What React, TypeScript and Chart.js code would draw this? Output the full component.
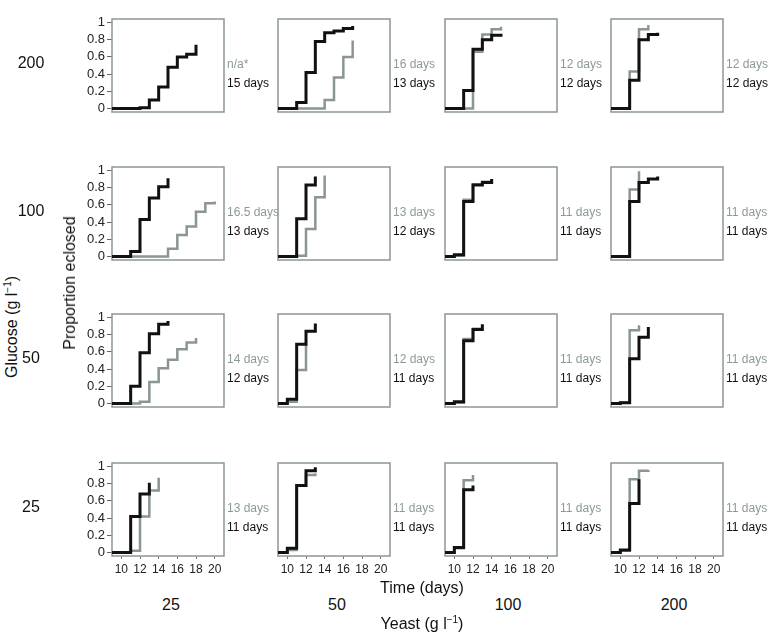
import React, { useEffect, useRef } from 'react';
import { Chart, registerables } from 'chart.js';

Chart.register(...registerables);

// ---------- data ----------
const glucoseLevels = ['200', '100', '50', '25'];
const yeastLevels = ['25', '50', '100', '200'];
const xTickValues = [10, 12, 14, 16, 18, 20];
const yTickValues = [0, 0.2, 0.4, 0.6, 0.8, 1];

// grey = first series median label, black = second series median label
const greyLabels200 = ['n/a*', '16 days', '12 days', '12 days'];
const blackLabels200 = ['15 days', '13 days', '12 days', '12 days'];
const greyLabels100 = ['16.5 days', '13 days', '11 days', '11 days'];
const blackLabels100 = ['13 days', '12 days', '11 days', '11 days'];
const greyLabels50 = ['14 days', '12 days', '11 days', '11 days'];
const blackLabels50 = ['12 days', '11 days', '11 days', '11 days'];
const greyLabels25 = ['13 days', '11 days', '11 days', '11 days'];
const blackLabels25 = ['11 days', '11 days', '11 days', '11 days'];

// Glucose 200
const bDays_200_25 = [9, 12, 13, 14, 15, 16, 17, 18];
const bProp_200_25 = [0, 0.01, 0.1, 0.25, 0.48, 0.6, 0.63, 0.74];
const bDays_200_50 = [9, 11, 12, 13, 14, 15, 16, 17];
const bProp_200_50 = [0, 0.07, 0.42, 0.78, 0.88, 0.9, 0.93, 0.96];
const gDays_200_50 = [9, 14, 15, 16, 17];
const gProp_200_50 = [0, 0.1, 0.36, 0.6, 0.79];
const bDays_200_100 = [9, 11, 12, 13, 14, 15];
const bProp_200_100 = [0, 0.21, 0.69, 0.8, 0.85, 0.87];
const gDays_200_100 = [9, 12, 13, 14, 15];
const gProp_200_100 = [0, 0.66, 0.86, 0.92, 0.95];
const bDays_200_200 = [9, 11, 12, 13, 14];
const bProp_200_200 = [0, 0.33, 0.8, 0.86, 0.88];
const gDays_200_200 = [9, 11, 12, 13];
const gProp_200_200 = [0, 0.43, 0.92, 0.97];

// Glucose 100
const bDays_100_25 = [9, 11, 12, 13, 14, 15];
const bProp_100_25 = [0, 0.06, 0.43, 0.68, 0.81, 0.91];
const gDays_100_25 = [9, 15, 16, 17, 18, 19, 20];
const gProp_100_25 = [0, 0.09, 0.25, 0.35, 0.52, 0.62, 0.64];
const bDays_100_50 = [9, 11, 12, 13];
const bProp_100_50 = [0, 0.44, 0.83, 0.93];
const gDays_100_50 = [9, 11, 12, 13, 14];
const gProp_100_50 = [0, 0.01, 0.32, 0.69, 0.94];
const bDays_100_100 = [9, 10, 11, 12, 13, 14];
const bProp_100_100 = [0, 0.02, 0.64, 0.83, 0.86, 0.9];
const gDays_100_100 = [9, 10, 11, 12, 13, 14];
const gProp_100_100 = [0, 0.01, 0.66, 0.84, 0.87, 0.9];
const bDays_100_200 = [9, 11, 12, 13, 14];
const bProp_100_200 = [0, 0.64, 0.86, 0.9, 0.93];
const gDays_100_200 = [9, 11, 12];
const gProp_100_200 = [0, 0.78, 0.99];

// Glucose 50
const bDays_50_25 = [9, 11, 12, 13, 14, 15];
const bProp_50_25 = [0, 0.2, 0.59, 0.81, 0.92, 0.96];
const gDays_50_25 = [9, 12, 13, 14, 15, 16, 17, 18];
const gProp_50_25 = [0, 0.02, 0.25, 0.41, 0.51, 0.63, 0.71, 0.76];
const bDays_50_50 = [9, 10, 11, 12, 13];
const bProp_50_50 = [0, 0.05, 0.69, 0.84, 0.93];
const gDays_50_50 = [9, 10, 11, 12];
const gProp_50_50 = [0, 0.02, 0.39, 0.69];
const bDays_50_100 = [9, 10, 11, 12, 13];
const bProp_50_100 = [0, 0.02, 0.73, 0.86, 0.92];
const gDays_50_100 = [9, 10, 11, 12, 13];
const gProp_50_100 = [0, 0.01, 0.75, 0.87, 0.91];
const bDays_50_200 = [9, 10, 11, 12, 13];
const bProp_50_200 = [0, 0.01, 0.52, 0.77, 0.89];
const gDays_50_200 = [9, 10, 11, 12];
const gProp_50_200 = [0, 0.01, 0.85, 0.91];

// Glucose 25
const bDays_25_25 = [9, 11, 12, 13];
const bProp_25_25 = [0, 0.42, 0.68, 0.81];
const gDays_25_25 = [9, 11, 12, 13, 14];
const gProp_25_25 = [0, 0.02, 0.42, 0.72, 0.87];
const bDays_25_50 = [9, 10, 11, 12, 13];
const bProp_25_50 = [0, 0.05, 0.78, 0.95, 0.99];
const gDays_25_50 = [9, 10, 11, 12, 13];
const gProp_25_50 = [0, 0.03, 0.78, 0.9, 0.92];
const bDays_25_100 = [9, 10, 11, 12];
const bProp_25_100 = [0, 0.06, 0.73, 0.78];
const gDays_25_100 = [9, 10, 11, 12];
const gProp_25_100 = [0, 0.05, 0.84, 0.9];
const bDays_25_200 = [9, 10, 11, 12];
const bProp_25_200 = [0, 0.03, 0.57, 0.85];
const gDays_25_200 = [9, 10, 11, 12, 13];
const gProp_25_200 = [0, 0.02, 0.85, 0.95, 0.96];

type Series = { days: number[]; props: number[] } | null;

const panelSeries: { black: Series; grey: Series }[][] = [
  [
    { black: { days: bDays_200_25, props: bProp_200_25 }, grey: null },
    { black: { days: bDays_200_50, props: bProp_200_50 }, grey: { days: gDays_200_50, props: gProp_200_50 } },
    { black: { days: bDays_200_100, props: bProp_200_100 }, grey: { days: gDays_200_100, props: gProp_200_100 } },
    { black: { days: bDays_200_200, props: bProp_200_200 }, grey: { days: gDays_200_200, props: gProp_200_200 } },
  ],
  [
    { black: { days: bDays_100_25, props: bProp_100_25 }, grey: { days: gDays_100_25, props: gProp_100_25 } },
    { black: { days: bDays_100_50, props: bProp_100_50 }, grey: { days: gDays_100_50, props: gProp_100_50 } },
    { black: { days: bDays_100_100, props: bProp_100_100 }, grey: { days: gDays_100_100, props: gProp_100_100 } },
    { black: { days: bDays_100_200, props: bProp_100_200 }, grey: { days: gDays_100_200, props: gProp_100_200 } },
  ],
  [
    { black: { days: bDays_50_25, props: bProp_50_25 }, grey: { days: gDays_50_25, props: gProp_50_25 } },
    { black: { days: bDays_50_50, props: bProp_50_50 }, grey: { days: gDays_50_50, props: gProp_50_50 } },
    { black: { days: bDays_50_100, props: bProp_50_100 }, grey: { days: gDays_50_100, props: gProp_50_100 } },
    { black: { days: bDays_50_200, props: bProp_50_200 }, grey: { days: gDays_50_200, props: gProp_50_200 } },
  ],
  [
    { black: { days: bDays_25_25, props: bProp_25_25 }, grey: { days: gDays_25_25, props: gProp_25_25 } },
    { black: { days: bDays_25_50, props: bProp_25_50 }, grey: { days: gDays_25_50, props: gProp_25_50 } },
    { black: { days: bDays_25_100, props: bProp_25_100 }, grey: { days: gDays_25_100, props: gProp_25_100 } },
    { black: { days: bDays_25_200, props: bProp_25_200 }, grey: { days: gDays_25_200, props: gProp_25_200 } },
  ],
];

const greyLabelRows = [greyLabels200, greyLabels100, greyLabels50, greyLabels25];
const blackLabelRows = [blackLabels200, blackLabels100, blackLabels50, blackLabels25];

// ---------- layout / style ----------
const FONT = '"Liberation Sans", Arial, Helvetica, sans-serif';
const BLACK = '#111111';
const GREY = '#8a9595';
const GREY_TEXT = '#8d9999';
const FRAME = '#8c9696';

const PLOT_W = 112;
const PLOT_H = 93;
const PAD_L = 44;
const PAD_R = 4;
const PAD_T = 4;
const PAD_B = 30;
const colLefts = [112, 278, 445, 611];
const rowTops = [19, 167, 314, 463];

function Panel({ row, col }: { row: number; col: number }) {
  const ref = useRef<HTMLCanvasElement>(null);
  useEffect(() => {
    const { black, grey } = panelSeries[row][col];
    const showY = col === 0;
    const showX = row === 3;
    const datasets: any[] = [];
    if (black) {
      datasets.push({
        data: black.days.map((d, i) => ({ x: d, y: black.props[i] })),
        borderColor: BLACK,
        borderWidth: 3,
        stepped: 'before',
        pointRadius: 0,
        fill: false,
        borderCapStyle: 'butt',
        borderJoinStyle: 'miter',
      });
    }
    if (grey) {
      datasets.push({
        data: grey.days.map((d, i) => ({ x: d, y: grey.props[i] })),
        borderColor: GREY,
        borderWidth: 2.5,
        stepped: 'before',
        pointRadius: 0,
        fill: false,
        borderCapStyle: 'butt',
        borderJoinStyle: 'miter',
      });
    }
    const framePlugin = {
      id: 'frame',
      beforeDatasetsDraw(chart: any) {
        const { ctx, chartArea: a } = chart;
        ctx.save();
        ctx.strokeStyle = FRAME;
        ctx.lineWidth = 1.5;
        ctx.strokeRect(a.left, a.top, a.right - a.left, a.bottom - a.top);
        ctx.restore();
      },
    };
    const zeroPad = (s: any) => {
      s.paddingTop = 0;
      s.paddingBottom = 0;
      s.paddingLeft = 0;
      s.paddingRight = 0;
    };
    const chart = new Chart(ref.current as HTMLCanvasElement, {
      type: 'line',
      data: { datasets },
      plugins: [framePlugin],
      options: {
        animation: false,
        responsive: false,
        devicePixelRatio: 1,
        events: [],
        layout: { padding: { top: PAD_T, right: PAD_R, left: 0, bottom: 0 } },
        plugins: { legend: { display: false }, tooltip: { enabled: false } },
        scales: {
          x: {
            type: 'linear',
            min: 9,
            max: 21,
            afterBuildTicks: (s: any) => {
              s.ticks = xTickValues.map((v) => ({ value: v }));
            },
            afterFit: (s: any) => {
              s.height = PAD_B;
              zeroPad(s);
            },
            ticks: {
              display: showX,
              autoSkip: false,
              maxRotation: 0,
              padding: 3,
              color: '#222222',
              font: { family: FONT, size: 12 },
              callback: (v: any) => String(v),
            },
            grid: { display: showX, drawOnChartArea: false, tickLength: 3, color: '#777777' },
            border: { display: false },
          },
          y: {
            type: 'linear',
            min: -0.04,
            max: 1.04,
            afterBuildTicks: (s: any) => {
              s.ticks = yTickValues.map((v) => ({ value: v }));
            },
            afterFit: (s: any) => {
              s.width = PAD_L;
              zeroPad(s);
            },
            ticks: {
              display: showY,
              autoSkip: false,
              padding: 2,
              color: '#222222',
              font: { family: FONT, size: 13 },
              callback: (v: any) => String(v),
            },
            grid: { display: showY, drawOnChartArea: false, tickLength: 5, color: '#666666' },
            border: { display: false },
          },
        },
      } as any,
    });
    return () => chart.destroy();
  }, [row, col]);

  const w = PAD_L + PLOT_W + PAD_R;
  const h = PAD_T + PLOT_H + PAD_B;
  return (
    <canvas
      ref={ref}
      width={w}
      height={h}
      style={{
        position: 'absolute',
        left: colLefts[col] - PAD_L,
        top: rowTops[row] - PAD_T,
        width: w,
        height: h,
      }}
    />
  );
}

const textBase: React.CSSProperties = {
  position: 'absolute',
  fontFamily: FONT,
  whiteSpace: 'nowrap',
  lineHeight: 1,
};

function Centered({ x, y, size, children, rotate, color }: any) {
  return (
    <div
      style={{
        ...textBase,
        left: x,
        top: y,
        fontSize: size,
        color: color || '#111',
        transform: `translate(-50%, -50%)${rotate ? ' rotate(-90deg)' : ''}`,
      }}
    >
      {children}
    </div>
  );
}

export default function App() {
  const panels: React.ReactNode[] = [];
  const labels: React.ReactNode[] = [];
  for (let r = 0; r < 4; r++) {
    for (let c = 0; c < 4; c++) {
      panels.push(<Panel key={`p${r}${c}`} row={r} col={c} />);
      const lx = colLefts[c] + PLOT_W + 3;
      labels.push(
        <div
          key={`g${r}${c}`}
          style={{ ...textBase, left: lx, top: rowTops[r] + 45, fontSize: 12, color: GREY_TEXT, transform: 'translateY(-50%)' }}
        >
          {greyLabelRows[r][c]}
        </div>
      );
      labels.push(
        <div
          key={`b${r}${c}`}
          style={{ ...textBase, left: lx, top: rowTops[r] + 64, fontSize: 12, color: '#111', transform: 'translateY(-50%)' }}
        >
          {blackLabelRows[r][c]}
        </div>
      );
    }
  }
  const colCenters = [171, 337, 508, 674];
  return (
    <div style={{ position: 'absolute', left: 0, top: 0, width: 776, height: 640, background: '#fff', overflow: 'hidden' }}>
      {panels}
      {labels}
      {glucoseLevels.map((g, i) => (
        <Centered key={`gl${g}`} x={31} y={rowTops[i] + 44} size={16}>
          {g}
        </Centered>
      ))}
      {yeastLevels.map((y, i) => (
        <Centered key={`yl${y}`} x={colCenters[i]} y={605} size={16}>
          {y}
        </Centered>
      ))}
      <Centered x={12} y={327} size={16} rotate>
        Glucose (g l<sup style={{ fontSize: 10, verticalAlign: 'super', lineHeight: 0 }}>−1</sup>)
      </Centered>
      <Centered x={70} y={283} size={16} rotate>
        Proportion eclosed
      </Centered>
      <Centered x={422} y={588} size={16}>
        Time (days)
      </Centered>
      <Centered x={422} y={624} size={16}>
        Yeast (g l<sup style={{ fontSize: 10, verticalAlign: 'super', lineHeight: 0 }}>−1</sup>)
      </Centered>
    </div>
  );
}
